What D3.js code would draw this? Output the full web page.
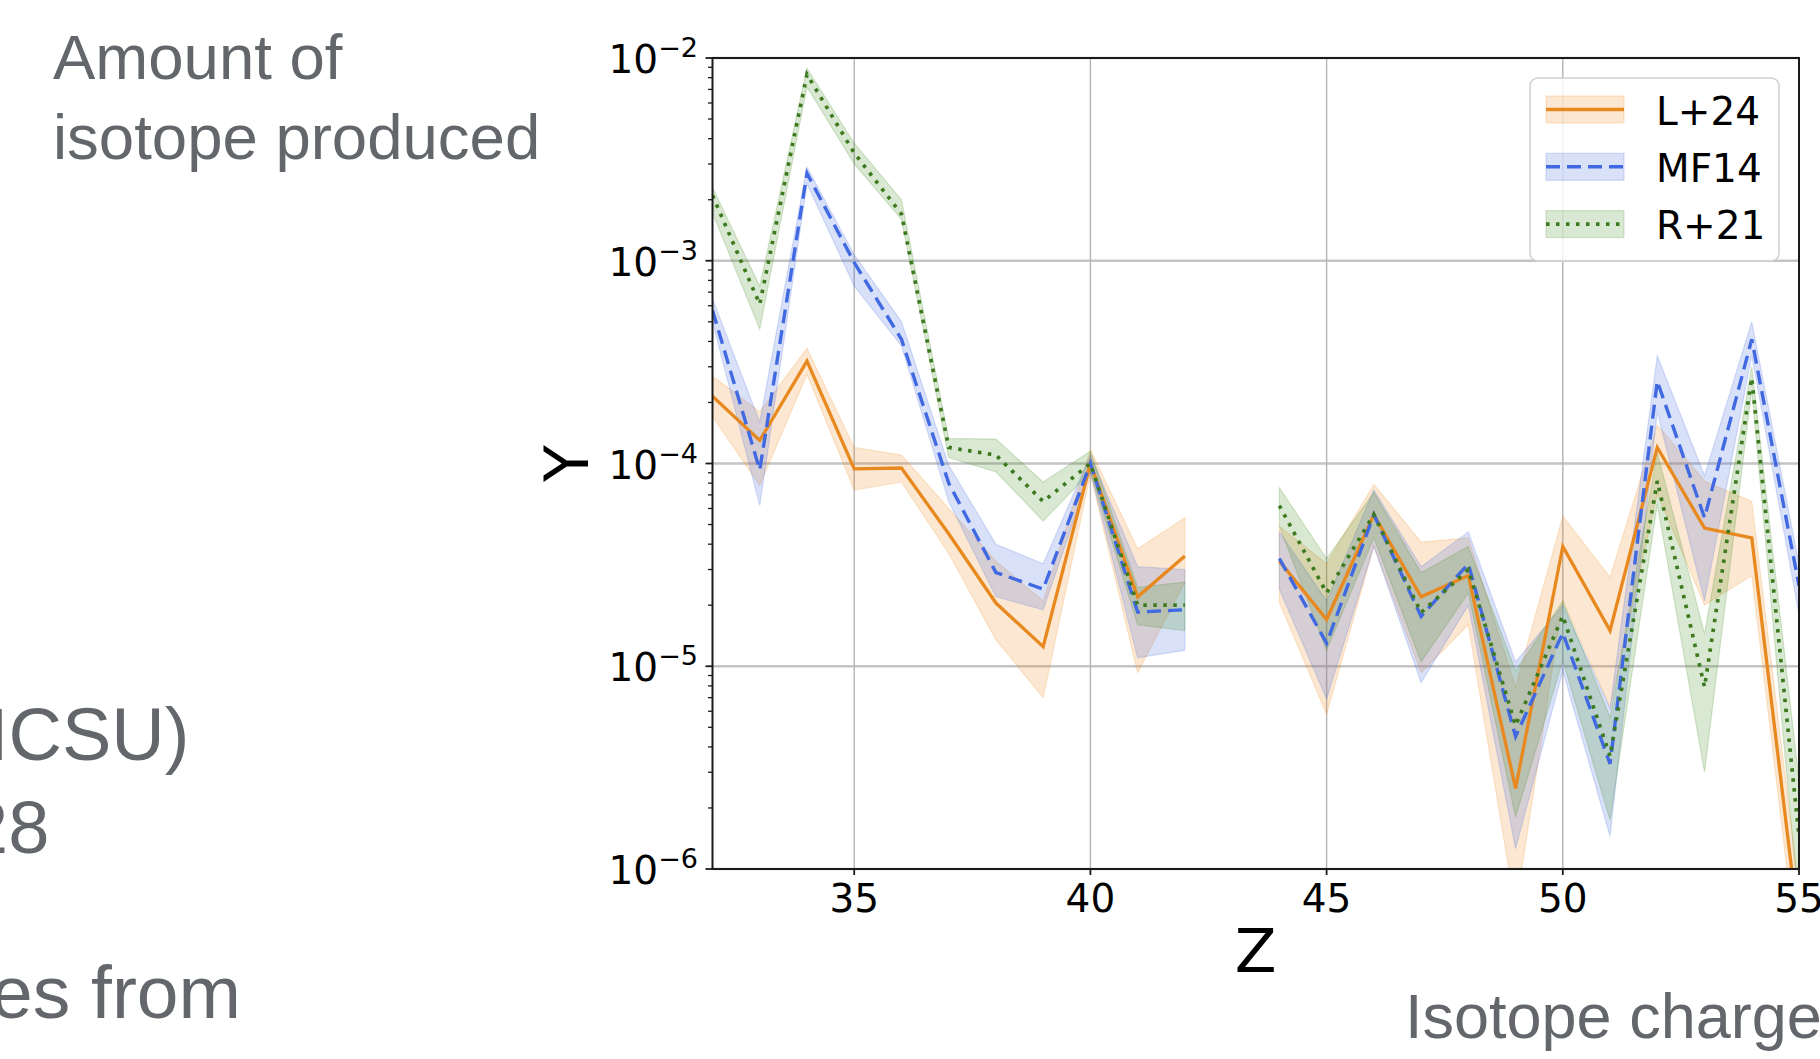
<!DOCTYPE html>
<html>
<head>
<meta charset="utf-8">
<script src="https://cdn.jsdelivr.net/npm/d3@7"></script>
<style>
  html, body { margin: 0; padding: 0; background: #ffffff; }
  svg { display: block; }
</style>
</head>
<body>
<svg id="chart" width="1820" height="1059"></svg>
<script>
// ---------------- data ----------------
const zValues = [32,33,34,35,36,37,38,39,40,41,42,43,44,45,46,47,48,49,50,51,52,53,54,55];
const seriesNames = ["L+24", "MF14", "R+21"];

// L+24 (solid orange)
const l24Mid = [2.15e-4,1.3e-4,3.2e-4,9.4e-5,9.5e-5,4.5e-5,2.05e-5,1.25e-5,1.0e-4,2.2e-5,3.5e-5,null,3.3e-5,1.7e-5,5.6e-5,2.2e-5,2.8e-5,2.5e-6,3.9e-5,1.5e-5,1.2e-4,4.8e-5,4.3e-5,5.0e-7];
const l24Lo  = [1.7e-4,7.8e-5,2.75e-4,7.4e-5,8.1e-5,3.6e-5,1.35e-5,7.0e-6,8.9e-5,9.3e-6,2.6e-5,null,2.06e-5,5.8e-6,3.9e-5,9.3e-6,1.6e-5,6.3e-7,2.1e-5,6.3e-6,7.1e-5,2.0e-5,2.8e-5,3.2e-7];
const l24Hi  = [2.7e-4,1.8e-4,3.7e-4,1.2e-4,1.1e-4,6.0e-5,3.3e-5,2.1e-5,1.17e-4,3.8e-5,5.4e-5,null,4.9e-5,3.2e-5,7.9e-5,4.1e-5,4.3e-5,7.9e-6,5.5e-5,2.75e-5,1.55e-4,8.2e-5,6.5e-5,7.9e-7];

// MF14 (dashed blue)
const mf14Mid = [5.7e-4,9.3e-5,2.7e-3,9.8e-4,4.1e-4,8.0e-5,2.9e-5,2.4e-5,1.0e-4,1.85e-5,1.9e-5,null,3.4e-5,1.3e-5,5.6e-5,1.76e-5,3.2e-5,4.5e-6,1.46e-5,3.3e-6,2.55e-4,5.4e-5,4.1e-4,2.5e-5];
const mf14Lo  = [5.0e-4,6.2e-5,2.4e-3,7.5e-4,3.8e-4,6.5e-5,2.2e-5,1.9e-5,9.1e-5,1.1e-5,1.2e-5,null,2.4e-5,6.9e-6,3.9e-5,8.3e-6,2.0e-5,1.26e-6,9.5e-6,1.45e-6,1.8e-4,2.1e-5,3.4e-4,1.8e-5];
const mf14Hi  = [6.5e-4,1.6e-4,2.9e-3,1.07e-3,5.0e-4,9.8e-5,4.0e-5,3.2e-5,1.1e-4,3.1e-5,3.0e-5,null,4.6e-5,2.1e-5,7.4e-5,3.1e-5,4.6e-5,1.05e-5,2.0e-5,6.2e-6,3.4e-4,8.7e-5,5.0e-4,3.2e-5];

// R+21 (dotted green)
const r21Mid = [2.1e-3,6.1e-4,8.3e-3,3.4e-3,1.7e-3,1.2e-4,1.1e-4,6.5e-5,1.0e-4,2.0e-5,2.0e-5,null,6.2e-5,2.3e-5,5.6e-5,1.84e-5,3.0e-5,5.1e-6,1.77e-5,3.6e-6,8.2e-5,7.9e-6,2.65e-4,1.45e-6];
const r21Lo  = [1.72e-3,4.6e-4,7.2e-3,3.0e-3,1.6e-3,1.07e-4,9.1e-5,5.2e-5,9.1e-5,1.6e-5,1.5e-5,null,4.9e-5,1.2e-5,4.3e-5,1.05e-5,2.3e-5,1.8e-6,1.07e-5,1.74e-6,6.3e-5,3.0e-6,2.3e-4,6.3e-7];
const r21Hi  = [2.3e-3,7.5e-4,8.9e-3,3.8e-3,2.0e-3,1.33e-4,1.32e-4,8.1e-5,1.15e-4,2.45e-5,2.6e-5,null,7.6e-5,3.4e-5,7.2e-5,2.9e-5,3.9e-5,9.5e-6,2.1e-5,5.6e-6,1.13e-4,1.45e-5,3.0e-4,2.75e-6];

const xTicks = [35, 40, 45, 50, 55];
const yTickExponents = [-2, -3, -4, -5, -6];

// ---------------- setup ----------------
const svg = d3.select("#chart");
const plotLeft = 712.5, plotRight = 1799, plotTop = 58, plotBottom = 869;

const x = d3.scaleLinear().domain([32, 55]).range([plotLeft, plotRight]);
const y = d3.scaleLog().domain([1e-6, 1e-2]).range([plotBottom, plotTop]);

const styles = [
  { name: seriesNames[0], mid: l24Mid, lo: l24Lo, hi: l24Hi, color: "#e8891f", fill: "#f08a1c", dash: null, width: 3.3 },
  { name: seriesNames[1], mid: mf14Mid, lo: mf14Lo, hi: mf14Hi, color: "#4169e1", fill: "#4169e1", dash: "14,7", width: 3.4 },
  { name: seriesNames[2], mid: r21Mid, lo: r21Lo, hi: r21Hi, color: "#3d7a1f", fill: "#3f8a1c", dash: "3.5,6.5", width: 3.7 }
];

// ---------------- slide text (gray) ----------------
const slideGray = "#63666a";
const slideFont = "'Liberation Sans', Arial, Helvetica, sans-serif";
const slideTexts = [
  { t: "Amount of", x: 53, y: 79, s: 63.5 },
  { t: "isotope produced", x: 53, y: 159, s: 63.5 },
  { t: "ICSU)", x: -12, y: 760, s: 74 },
  { t: "28", x: -33, y: 853, s: 74 },
  { t: "es from", x: -9, y: 1018, s: 75 },
  { t: "Isotope charge", x: 1405, y: 1038, s: 63 }
];
svg.selectAll("text.slide").data(slideTexts).enter().append("text")
  .attr("class", "slide")
  .attr("x", d => d.x).attr("y", d => d.y)
  .attr("font-family", slideFont)
  .attr("font-size", d => d.s)
  .attr("fill", slideGray)
  .text(d => d.t);

// ---------------- plot ----------------
const chartFont = "'DejaVu Sans', Verdana, sans-serif";

svg.append("defs").append("clipPath").attr("id", "plotclip")
  .append("rect").attr("x", plotLeft).attr("y", plotTop)
  .attr("width", plotRight - plotLeft).attr("height", plotBottom - plotTop);

// gridlines
const grid = svg.append("g");
grid.selectAll("line.hg").data(yTickExponents).enter().append("line")
  .attr("x1", plotLeft).attr("x2", plotRight)
  .attr("y1", d => y(Math.pow(10, d))).attr("y2", d => y(Math.pow(10, d)))
  .attr("stroke", "#c4c4c4").attr("stroke-width", 2.4);
grid.selectAll("line.vg").data(xTicks).enter().append("line")
  .attr("y1", plotTop).attr("y2", plotBottom)
  .attr("x1", d => x(d)).attr("x2", d => x(d))
  .attr("stroke", "#b4b4b4").attr("stroke-width", 1.4);

const plotG = svg.append("g").attr("clip-path", "url(#plotclip)");

// bands
styles.forEach(s => {
  const pts = zValues.map((z, i) => ({ z, m: s.mid[i], lo: s.lo[i], hi: s.hi[i] }));
  const area = d3.area()
    .defined(d => d.m != null)
    .x(d => x(d.z))
    .y0(d => y(d.lo))
    .y1(d => y(d.hi));
  plotG.append("path").datum(pts)
    .attr("d", area)
    .attr("fill", s.fill).attr("fill-opacity", 0.2)
    .attr("stroke", s.fill).attr("stroke-opacity", 0.2).attr("stroke-width", 1.2);
});

// lines
styles.forEach(s => {
  const pts = zValues.map((z, i) => ({ z, m: s.mid[i] }));
  const line = d3.line()
    .defined(d => d.m != null)
    .x(d => x(d.z))
    .y(d => y(d.m));
  plotG.append("path").datum(pts)
    .attr("d", line)
    .attr("fill", "none")
    .attr("stroke", s.color)
    .attr("stroke-width", s.width)
    .attr("stroke-linejoin", "miter")
    .attr("stroke-dasharray", s.dash);
});

// spines
svg.append("rect").attr("x", plotLeft).attr("y", plotTop)
  .attr("width", plotRight - plotLeft).attr("height", plotBottom - plotTop)
  .attr("fill", "none").attr("stroke", "#1a1a1a").attr("stroke-width", 2);

// y ticks (major + minor)
const minorVals = [];
for (let e = -6; e < -2; e++) for (let k = 2; k <= 9; k++) minorVals.push(k * Math.pow(10, e));
svg.append("g").selectAll("line").data(minorVals).enter().append("line")
  .attr("x1", plotLeft - 4.5).attr("x2", plotLeft)
  .attr("y1", d => y(d)).attr("y2", d => y(d))
  .attr("stroke", "#1a1a1a").attr("stroke-width", 1.3);
svg.append("g").selectAll("line").data(yTickExponents).enter().append("line")
  .attr("x1", plotLeft - 7).attr("x2", plotLeft)
  .attr("y1", d => y(Math.pow(10, d))).attr("y2", d => y(Math.pow(10, d)))
  .attr("stroke", "#1a1a1a").attr("stroke-width", 1.8);

const yLab = svg.append("g").selectAll("text").data(yTickExponents).enter().append("text")
  .attr("x", 698)
  .attr("y", d => y(Math.pow(10, d)) + 15)
  .attr("text-anchor", "end")
  .attr("font-family", chartFont)
  .attr("font-size", 39)
  .attr("fill", "#000");
yLab.append("tspan").text("10");
yLab.append("tspan").attr("dy", -16).attr("font-size", 27).text(d => "\u2212" + Math.abs(d));

// x ticks
svg.append("g").selectAll("line").data(xTicks).enter().append("line")
  .attr("x1", d => x(d)).attr("x2", d => x(d))
  .attr("y1", plotBottom).attr("y2", plotBottom + 6)
  .attr("stroke", "#1a1a1a").attr("stroke-width", 1.8);
svg.append("g").selectAll("text").data(xTicks).enter().append("text")
  .attr("x", d => x(d)).attr("y", 912)
  .attr("text-anchor", "middle")
  .attr("font-family", chartFont)
  .attr("font-size", 39)
  .attr("fill", "#000")
  .text(d => d);

// axis labels
svg.append("text")
  .attr("x", (plotLeft + plotRight) / 2).attr("y", 972)
  .attr("text-anchor", "middle")
  .attr("font-family", chartFont).attr("font-size", 61)
  .text("Z");
svg.append("text")
  .attr("transform", `translate(588, ${(plotTop + plotBottom) / 2}) rotate(-90)`)
  .attr("text-anchor", "middle")
  .attr("font-family", chartFont).attr("font-size", 60)
  .text("Y");

// legend
const leg = svg.append("g");
leg.append("rect").attr("x", 1530).attr("y", 78).attr("width", 249).attr("height", 183)
  .attr("rx", 8).attr("ry", 8)
  .attr("fill", "#ffffff").attr("fill-opacity", 0.8)
  .attr("stroke", "#d0d0d0").attr("stroke-width", 1.5);
styles.forEach((s, i) => {
  const cy = 109.5 + i * 57.3;
  leg.append("rect").attr("x", 1546).attr("y", cy - 13.5).attr("width", 78).attr("height", 27)
    .attr("fill", s.fill).attr("fill-opacity", 0.2)
    .attr("stroke", s.fill).attr("stroke-opacity", 0.2).attr("stroke-width", 1.2);
  leg.append("line").attr("x1", 1546).attr("x2", 1624).attr("y1", cy).attr("y2", cy)
    .attr("stroke", s.color).attr("stroke-width", s.width)
    .attr("stroke-dasharray", s.dash);
  leg.append("text").attr("x", 1656).attr("y", cy + 15)
    .attr("font-family", chartFont).attr("font-size", 39)
    .attr("fill", "#000")
    .text(s.name);
});
</script>
</body>
</html>
